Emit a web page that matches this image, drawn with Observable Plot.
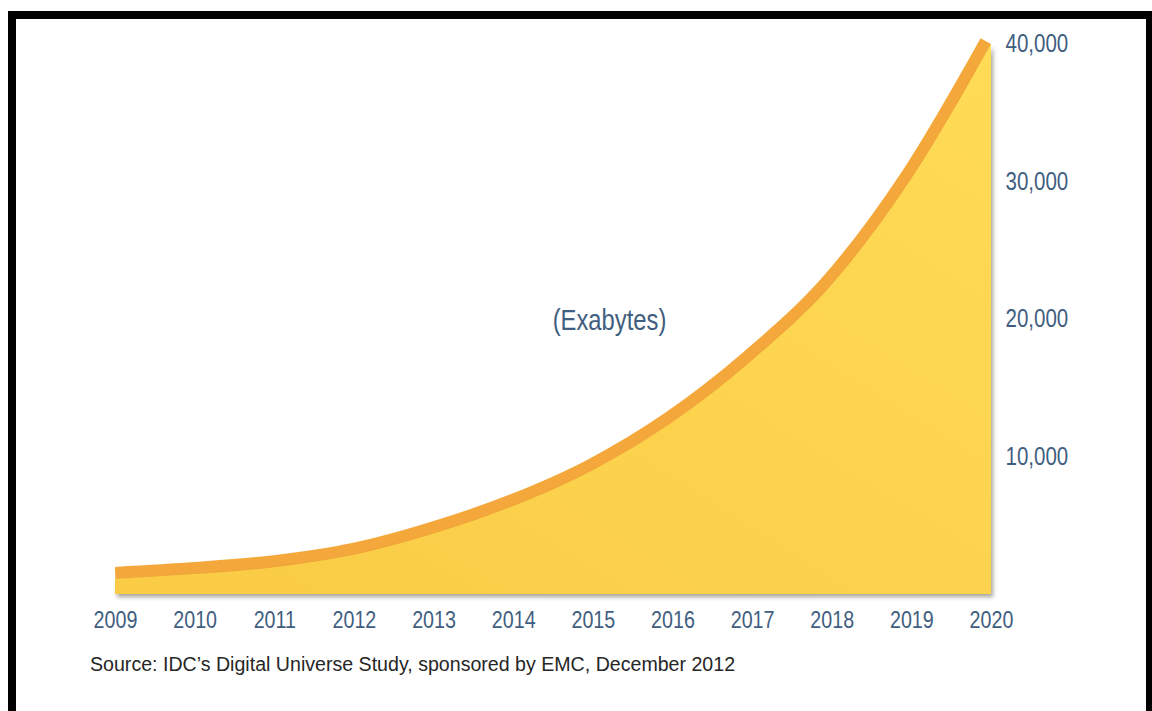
<!DOCTYPE html>
<html>
<head>
<meta charset="utf-8">
<script src="https://cdn.jsdelivr.net/npm/d3@7"></script>
<script src="https://cdn.jsdelivr.net/npm/@observablehq/plot@0.6"></script>
<style>
  html, body { margin: 0; padding: 0; background: #ffffff; overflow: hidden; width: 1152px; height: 711px; }
  #frame { position: absolute; left: 8px; top: 11px; width: 1146px; height: 760px; box-sizing: border-box;
           border-left: 8px solid #000; border-top: 8px solid #000; border-right: 8px solid #000; pointer-events: none; z-index: 2; }
  #chart { position: absolute; left: 0; top: 0; }
  #source { position: absolute; left: 90px; top: 653px; font-family: "Liberation Sans", Arial, sans-serif;
            font-size: 19.6px; color: #262626; white-space: nowrap; }
</style>
</head>
<body>
<div id="chart"></div>
<div id="source"></div>
<div id="frame"></div>
<script>
// ---- data ----
const years = [2009, 2010, 2011, 2012, 2013, 2014, 2015, 2016, 2017, 2018, 2019, 2020];
const exabytes = [1100, 1450, 1950, 2850, 4400, 6400, 9000, 12500, 17000, 22500, 30200, 40000];
const yTicks = [10000, 20000, 30000, 40000];
const unitLabel = ["(Exabytes)"];
const sourceText = "Source: IDC\u2019s Digital Universe Study, sponsored by EMC, December 2012";

const data = years.map((year, i) => ({year, value: exabytes[i]}));

const yellow = "#FDD24A";
const orange = "#F4A83B";
const blue = "#3F5E80";
const sans = "'Liberation Sans', Arial, Helvetica, sans-serif";

const chart = Plot.plot({
  width: 1152,
  height: 640,
  marginLeft: 115,
  marginRight: 161,
  marginTop: 30,
  marginBottom: 46,
  style: {background: "transparent", fontFamily: sans},
  x: {domain: [2009, 2020]},
  y: {domain: [0, 41000]},
  marks: [
    Plot.lineY(data, {x: "year", y: "value", stroke: orange, strokeWidth: 25,
      strokeLinecap: "butt", strokeLinejoin: "round", curve: "monotone-x", clip: true}),
    Plot.areaY(data, {x: "year", y: "value", fill: yellow, curve: "monotone-x"}),
    Plot.axisX({ticks: years, tickFormat: d => String(d), tickSize: 0, tickPadding: 16,
      fontSize: 24, color: blue, label: null}),
    Plot.axisY({anchor: "right", ticks: yTicks, tickFormat: d3.format(","), tickSize: 0,
      tickPadding: 14, fontSize: 25, color: blue, label: null}),
    Plot.text(unitLabel, {frameAnchor: "middle", dx: 56, dy: 8, fontSize: 29, fill: blue})
  ]
});
document.getElementById("chart").appendChild(chart);
document.getElementById("source").textContent = sourceText;

const svg = d3.select(chart);
// condensed look for chart texts
svg.selectAll("text").each(function() {
  const w = this.getComputedTextLength();
  if (w > 0) {
    this.setAttribute("textLength", (w * 0.82).toFixed(1));
    this.setAttribute("lengthAdjust", "spacingAndGlyphs");
  }
});
// gradient + shadow styling for the area
const defs = svg.insert("defs", ":first-child");
const grad = defs.append("linearGradient").attr("id", "yg")
  .attr("x1", "0").attr("y1", "1").attr("x2", "1").attr("y2", "0");
grad.append("stop").attr("offset", "0").attr("stop-color", "#FACB45");
grad.append("stop").attr("offset", "1").attr("stop-color", "#FFDB56");
svg.selectAll("g[aria-label='area']").attr("fill", "url(#yg)")
  .style("filter", "drop-shadow(2px 3px 2px rgba(60,50,30,0.45))");
</script>
</body>
</html>
